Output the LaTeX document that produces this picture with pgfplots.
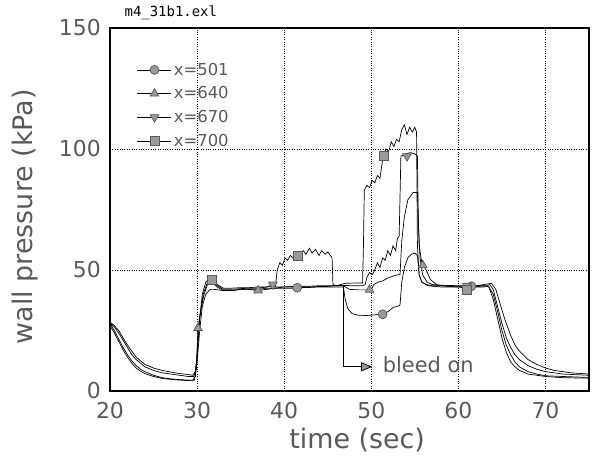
\documentclass[border=0pt]{standalone}
\usepackage{fontspec}
\setmainfont{DejaVu Sans}
\newfontfamily\monofont{DejaVu Sans Mono}
\usepackage{pgfplots}
\pgfplotsset{compat=1.18}
\usetikzlibrary{arrows.meta}

\definecolor{txt}{gray}{0.35}
\definecolor{mk}{gray}{0.6}
\definecolor{mkd}{gray}{0.35}

\begin{document}
\begin{tikzpicture}
\begin{axis}[
    width=479bp, height=363bp, scale only axis,
    xmin=20, xmax=75, ymin=0, ymax=150,
    xtick={20,30,...,70}, ytick={0,50,100,150},
    grid=major,
    grid style={black, dotted, line width=0.6pt},
    major tick length=0pt,
    axis line style={black, line width=1.2pt},
    clip=false,
    /pgf/number format/assume math mode=true,
    ticklabel style={font=\fontsize{22}{22}\selectfont, text=txt, inner sep=1bp},
    xticklabel style={yshift=-10bp},
    yticklabel style={xshift=-8bp},
    label style={font=\fontsize{27}{27}\selectfont, text=txt},
    xlabel={time (sec)},
    ylabel={wall pressure (kPa)},
    xlabel style={at={(axis description cs:0.516,-0.135)}, anchor=center},
    ylabel style={at={(axis description cs:-0.178,0.48)}, anchor=center},
    legend style={at={(axis description cs:0.05,0.915)}, anchor=north west,
        draw=none, fill=none, font=\fontsize{16.5}{16.5}\selectfont,
        text=txt, row sep=6bp},
    legend cell align=left,
    legend image code/.code={%
        \draw[mark repeat=2, mark phase=2] plot coordinates {(0bp,0bp)(17bp,0bp)(34bp,0bp)};},
    every axis plot/.append style={line width=0.7pt},
]
% legend entries
\addlegendimage{black, mark=*, mark size=4.5bp, mark options={fill=mk, draw=mkd}}
\addlegendentry{x=501}
\addlegendimage{black, mark=triangle*, mark size=5bp, mark options={fill=mk, draw=mkd}}
\addlegendentry{x=640}
\addlegendimage{black, mark=triangle*, mark size=5bp, mark options={fill=mk, draw=mkd, rotate=180}}
\addlegendentry{x=670}
\addlegendimage{black, mark=square*, mark size=4.5bp, mark options={fill=mk, draw=mkd}}
\addlegendentry{x=700}

% x=501
\addplot[black, forget plot] coordinates {
(20,28)(20.5,25)(21,21.5)(21.5,18)(22,15)(22.5,12.5)(23,10.5)(23.5,9)(24,8)(25,6.5)
(26,5.5)(27,5)(28,4.7)(29,4.5)(29.5,4.5)(29.8,6)(30,12)(30.3,25)(30.6,35)(31,40)
(31.5,42)(32,42)(33,41.5)(34,41.5)(35,42)(36,42)(37,42)(38,42.5)(39,42.5)(40,42.5)
(41,42.5)(42,42.8)(43,42.8)(44,43)(45,43)(46,43)(46.8,43)(47,38)(47.3,34)(47.8,32)
(48.5,31.3)(49.5,31.2)(50.5,31.5)(51.5,32)(52,33)(52.5,34.5)(53,35)(53.3,35.5)(53.5,45)
(53.8,51)(54.2,55)(54.6,56.5)(55,57)(55.3,56)(55.5,48)(55.8,45)(56.3,44)(57,43.5)
(58,43.5)(59,43.3)(60,43.3)(61,43.3)(62,43.5)(63,43.5)(63.5,43)(64,40)(64.5,33)
(65,25)(65.5,19)(66,15)(66.5,12)(67,10)(68,8)(69,7)(70,6.3)(72,6)(75,5.6)};
% x=640
\addplot[black, forget plot] coordinates {
(20,28)(20.5,26.5)(21,24)(21.5,21)(22,18)(22.5,15)(23,13)(23.5,11.5)(24,10)(25,8.5)
(26,7.5)(27,7)(28,6.5)(29,6)(29.6,6)(29.9,9)(30.1,26)(30.4,33)(30.8,40)(31.2,44)
(31.7,45)(32.3,43)(33,41.5)(34,41.5)(35,42)(36,42)(37,41.5)(38,42)(39,42.5)(40,43)
(41,43)(42,43)(43,43)(44,43.2)(45,43.2)(46,43.5)(46.8,43.5)(47.5,42)(48.5,41.8)
(49.5,41.8)(50,42)(50.3,44)(50.8,45)(51.3,45.5)(51.8,46.5)(52.5,47.5)(53,48)(53.3,48)
(53.5,62)(53.8,72)(54.2,79)(54.8,82)(55.3,82)(55.5,60)(55.8,53)(56.3,50)(56.8,46)
(57.5,44)(58,43.5)(60,43)(62,43)(63,43)(63.6,44)(64,42)(64.5,35)(65,28)(65.5,22)
(66,18)(66.5,15)(67,13)(68,10.5)(69,9)(70,8)(72,7)(75,6.5)};
% x=670
\addplot[black, forget plot] coordinates {
(20,27)(20.5,24)(21,20.5)(21.5,17)(22,14)(22.5,11.5)(23,9.5)(23.5,8.2)(24,7.2)(25,6)
(26,5.2)(27,4.8)(28,4.5)(29,4.3)(29.7,4.5)(30,15)(30.3,30)(30.7,40)(31.2,45)(31.7,46)
(32.3,43.5)(33,42)(34,42)(35,42.3)(36,42.5)(37,42.5)(38,43)(38.7,44)(39,43)(40,43)
(41,43.2)(42,43.3)(43,43.3)(44,43.5)(45,43.5)(46,43.6)(47,43.6)(48,43.5)(49,43.5)
(49.3,44)(49.5,47)(49.8,49)(50.1,48)(50.4,50)(50.7,53)(51,51)(51.3,55)(51.6,54)
(51.9,58)(52.2,56)(52.5,60)(52.8,58)(53,63)(53.2,64)(53.3,80)(53.4,97)(54,98)
(54.5,98.5)(55,98)(55.3,97)(55.4,70)(55.6,55)(55.9,48)(56.4,45)(57,44)(58,43.7)
(60,43.5)(62,43.5)(63,44)(63.8,44.5)(64.3,42)(64.8,36)(65.3,30)(66,23)(66.5,19)
(67,16.5)(68,13)(69,11)(70,9.5)(71,8.5)(73,7.5)(75,7)};
% x=700
\addplot[black, forget plot] coordinates {
(20,28.5)(20.5,27)(21,25)(21.5,22)(22,19)(22.5,16.5)(23,14)(23.5,12.5)(24,11)(25,9.5)
(26,8.5)(27,7.8)(28,7.2)(29,6.8)(29.5,6.5)(29.8,8)(30,14)(30.3,30)(30.6,40)(31,45)
(31.5,47)(32,47)(32.3,44)(33,42.5)(34,42.5)(35,42.7)(36,42.7)(37,43)(38,43)(39,43.2)
(39.2,50)(39.5,53)(39.8,52)(40.1,55)(40.4,54)(40.7,56)(41,55)(41.4,57)(41.8,56)
(42.2,58)(42.5,56.5)(42.9,59)(43.2,57)(43.6,58.5)(44,56)(44.3,58)(44.7,56.5)(45,57.5)
(45.3,56)(45.5,55)(45.6,44)(46,43.5)(47,44.5)(48,44.6)(49,44.6)(49.1,60)(49.2,83)
(49.5,85)(49.8,84)(50.1,87)(50.4,86)(50.7,89)(51,88)(51.2,93)(51.4,98)(51.7,100)
(52,99)(52.3,103)(52.6,101)(52.9,104)(53.2,103)(53.5,108)(53.8,110)(54.1,106)
(54.4,109)(54.7,107)(55,109)(55.2,107)(55.3,60)(55.5,48)(55.8,45)(56.5,43.5)(58,43)
(60,43)(61,42.5)(62,43)(63,43.5)(63.5,43)(64,38)(64.5,30)(65,22)(65.5,16)(66,12)
(66.5,10)(67,8.5)(68,7)(70,6)(72,5.5)(75,5.3)};

% markers
\addplot[only marks, mark=*, mark size=4.5bp, mark options={fill=mk, draw=mkd}, forget plot]
  coordinates {(41.5,42.7)(51.3,31.7)(61.5,43.3)};
\addplot[only marks, mark=triangle*, mark size=5bp, mark options={fill=mk, draw=mkd}, forget plot]
  coordinates {(30.1,26)(37,41.5)(49.8,41.8)(55.9,52)};
\addplot[only marks, mark=triangle*, mark size=5bp, mark options={fill=mk, draw=mkd, rotate=180}, forget plot]
  coordinates {(38.7,44)(54.1,97)(61,43.5)};
\addplot[only marks, mark=square*, mark size=4.5bp, mark options={fill=mk, draw=mkd}, forget plot]
  coordinates {(31.7,46)(41.6,56)(51.4,97)(61,42)};

% bleed on annotation
\draw[black, line width=0.8pt] (axis cs:46.8,44) -- (axis cs:46.8,10) -- (axis cs:48.8,10);
\draw[line width=0.8pt, -{Triangle[length=11bp, width=9bp, fill=mk]}] (axis cs:48.5,10) -- (axis cs:50.1,10);
\node[anchor=base west, text=txt, font=\fontsize{21}{21}\selectfont, inner sep=0pt]
  at (axis cs:51.3,7.6) {bleed on};
\node[font=\monofont\fontsize{14}{14}\selectfont, anchor=center]
  at (axis description cs:0.127,1.043) {m4\_31b1.exl};
\end{axis}
\pgfresetboundingbox
\path ([shift={(-110bp,-69bp)}]current axis.south west) rectangle ([shift={(9bp,28bp)}]current axis.north east);
\end{tikzpicture}
\end{document}
